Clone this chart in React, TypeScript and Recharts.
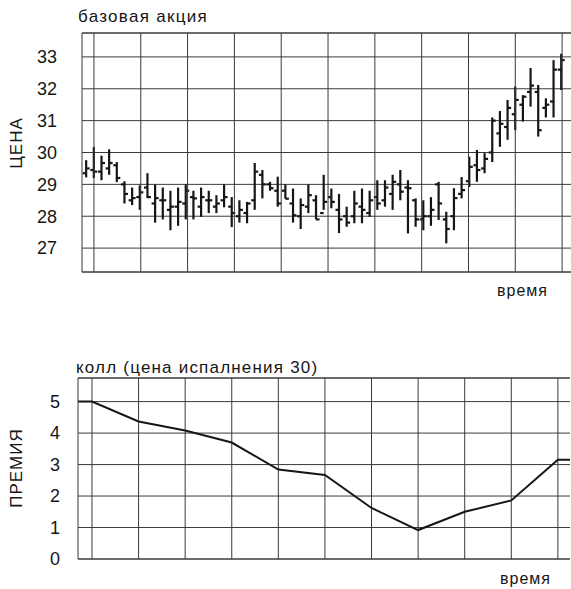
import React from "react";
import {
  ComposedChart,
  Bar,
  Line,
  XAxis,
  YAxis,
  CartesianGrid,
  ReferenceLine,
} from "recharts";

// === Underlying stock: daily bars ===
const highs = [
  29.76, 30.17, 29.9, 30.1, 29.7, 29.1, 28.9, 28.97, 29.35, 29.0, 28.9, 28.8,
  28.9, 29.0, 28.8, 28.9, 28.8, 28.66, 29.0, 28.6, 28.5, 28.45, 29.67, 29.45,
  29.08, 29.24, 29.0, 28.87, 28.56, 29.0, 28.66, 29.3, 28.87, 28.7, 28.3, 28.8,
  28.87, 28.8, 29.13, 29.13, 29.3, 29.45, 29.13, 28.56, 28.5, 28.6, 29.08,
  28.14, 28.88, 29.23, 29.87, 30.08, 29.98, 31.1, 31.3, 31.65, 32.07, 31.8,
  32.65, 32.12, 31.7, 32.9, 33.1,
];
const lows = [
  29.22, 29.2, 29.13, 29.3, 29.07, 28.4, 28.35, 28.2, 28.57, 27.8, 27.9, 27.56,
  27.7, 27.9, 27.9, 27.98, 28.1, 28.1, 28.28, 27.66, 27.8, 27.78, 28.2, 28.56,
  28.8, 28.3, 28.55, 27.8, 27.6, 28.1, 27.9, 28.2, 28.25, 27.47, 27.67, 27.78,
  27.78, 27.98, 28.2, 28.3, 28.2, 28.5, 27.46, 27.67, 27.56, 27.7, 27.88,
  27.15, 27.56, 28.56, 28.92, 29.08, 29.35, 29.7, 30.18, 30.4, 30.7, 30.97,
  31.44, 30.5, 31.1, 31.1, 31.96,
];
const opens = [
  29.35, 29.45, 29.4, 29.5, 29.6, 29.0, 28.5, 28.6, 28.9, 28.4, 28.5, 28.2,
  28.3, 28.4, 28.6, 28.3, 28.5, 28.3, 28.5, 28.3, 28.0, 28.1, 28.5, 29.3, 29.0,
  28.8, 28.8, 28.4, 28.0, 28.3, 28.5, 28.1, 28.6, 28.2, 28.0, 28.0, 28.3, 28.1,
  28.6, 28.5, 28.7, 29.0, 28.9, 28.5, 27.9, 28.0, 29.0, 27.9, 28.0, 28.7,
  29.1, 29.6, 29.5, 30.0, 30.6, 30.8, 31.2, 31.5, 31.9, 31.9, 31.4, 31.6, 32.6,
];
const closes = [
  29.5, 29.4, 29.67, 29.67, 29.2, 28.7, 28.57, 28.75, 28.6, 28.57, 28.5, 28.3,
  28.45, 28.8, 28.56, 28.6, 28.5, 28.4, 28.6, 28.1, 28.2, 28.4, 29.4, 29.0,
  28.88, 28.4, 28.55, 28.03, 28.35, 28.66, 27.9, 28.45, 28.45, 27.9, 27.8,
  28.4, 28.2, 28.5, 28.4, 28.9, 29.08, 28.77, 28.88, 27.9, 28.0, 28.2, 28.4,
  27.6, 28.57, 28.82, 29.55, 29.45, 29.8, 31.0, 30.9, 31.4, 31.65, 31.75, 32.1,
  30.7, 31.5, 32.6, 32.9,
];
const priceTicks = [27, 28, 29, 30, 31, 32, 33];

// === Call option premium (strike 30) ===
const premiumTimes = [-0.3, 0, 1, 2, 3, 4, 5, 6, 7, 8, 9, 10, 10.26];
const premiumValues = [5, 5, 4.37, 4.08, 3.7, 2.84, 2.67, 1.62, 0.92, 1.5, 1.86, 3.15, 3.15];
const premiumTicks = [0, 1, 2, 3, 4, 5];
const timeTicks = [0, 1, 2, 3, 4, 5, 6, 7, 8, 9, 10];

const FONT = "'Liberation Sans', Arial, sans-serif";
const INK = "#161616";
const GRID = "#3a3a3a";

const barData = highs.map((h, i) => ({
  i,
  range: [lows[i], h],
  high: h,
  low: lows[i],
  open: opens[i],
  close: closes[i],
}));

// vertical grid lines sit every ~6.1 trading days
const barGridTicks = timeTicks.map((k) => 1.04 + 6.11 * k);

const premiumData = premiumTimes.map((t, idx) => ({ t, premium: premiumValues[idx] }));

const OhlcShape = (props: any) => {
  const { x, y, width, height, payload } = props;
  if (x == null || y == null) return null;
  const top = Math.min(y, y + height);
  const bottom = Math.max(y, y + height);
  const cx = x + width / 2;
  const span = payload.high - payload.low || 1;
  const yOf = (v: number) => top + ((payload.high - v) / span) * (bottom - top);
  return (
    <g stroke={INK} strokeWidth={2.2}>
      <line x1={cx} x2={cx} y1={top} y2={bottom} />
      <line x1={cx - 3.5} x2={cx} y1={yOf(payload.open)} y2={yOf(payload.open)} />
      <line x1={cx} x2={cx + 3.5} y1={yOf(payload.close)} y2={yOf(payload.close)} />
    </g>
  );
};

const text = (style: React.CSSProperties, children: string) => (
  <div
    style={{
      position: "absolute",
      whiteSpace: "nowrap",
      fontFamily: FONT,
      color: INK,
      lineHeight: 1,
      ...style,
    }}
  >
    {children}
  </div>
);

const rotated = (cx: number, cy: number, label: string) => (
  <div
    style={{
      position: "absolute",
      left: cx,
      top: cy,
      transform: "translate(-50%, -50%) rotate(-90deg)",
      whiteSpace: "nowrap",
      fontFamily: FONT,
      fontSize: 17,
      letterSpacing: 1,
      color: INK,
      lineHeight: 1,
    }}
  >
    {label}
  </div>
);

export default function App() {
  const tickStyle = { fontSize: 18, fill: INK, fontFamily: FONT };
  return (
    <div
      style={{
        position: "absolute",
        left: 0,
        top: 0,
        width: 571,
        height: 589,
        background: "#fff",
        overflow: "hidden",
      }}
    >
      {text({ left: 78, top: 8, fontSize: 17, letterSpacing: 1.3 }, "базовая акция")}
      {rotated(16, 143, "ЦЕНА")}
      {text({ left: 497, top: 283, fontSize: 16, letterSpacing: 1 }, "время")}

      {/* === Stock bars === */}
      <div style={{ position: "absolute", left: 0, top: 0 }}>
        <ComposedChart
          width={571}
          height={273}
          data={barData}
          margin={{ top: 33, right: 0, bottom: 0, left: 0 }}
        >
          <CartesianGrid stroke={GRID} strokeWidth={1} vertical={false} />
          <XAxis
            dataKey="i"
            type="number"
            domain={[-0.52, 63.3]}
            ticks={barGridTicks}
            tick={false}
            tickLine={false}
            height={1}
            axisLine={{ stroke: GRID }}
            allowDataOverflow
          />
          <YAxis
            type="number"
            domain={[26.25, 33.75]}
            ticks={priceTicks}
            interval={0}
            width={82}
            tickLine={false}
            tickSize={0}
            tickMargin={25}
            tick={tickStyle}
            axisLine={{ stroke: GRID }}
            allowDataOverflow
          />
          <ReferenceLine y={33.75} stroke={GRID} />
          {barGridTicks.map((g) => (
            <ReferenceLine key={g} x={g} stroke={GRID} />
          ))}
          <Bar
            dataKey="range"
            barSize={6}
            shape={OhlcShape}
            isAnimationActive={false}
          />
        </ComposedChart>
      </div>

      {text({ left: 76, top: 359, fontSize: 17, letterSpacing: 1.2 }, "колл (цена испалнения 30)")}
      {rotated(16, 468, "ПРЕМИЯ")}
      {text({ left: 500, top: 571, fontSize: 16, letterSpacing: 1 }, "время")}

      {/* === Option premium === */}
      <div style={{ position: "absolute", left: 0, top: 340 }}>
        <ComposedChart
          width={571}
          height={230}
          data={premiumData}
          margin={{ top: 38, right: 1, bottom: 10, left: 0 }}
        >
          <CartesianGrid stroke={GRID} strokeWidth={1} vertical={false} />
          <XAxis
            dataKey="t"
            type="number"
            domain={[-0.3, 10.26]}
            ticks={timeTicks}
            tick={false}
            tickLine={false}
            height={1}
            axisLine={{ stroke: GRID }}
            allowDataOverflow
          />
          <YAxis
            type="number"
            domain={[0, 5.75]}
            ticks={premiumTicks}
            interval={0}
            width={78}
            tickLine={false}
            tickSize={0}
            tickMargin={18}
            tick={tickStyle}
            axisLine={{ stroke: GRID }}
            allowDataOverflow
          />
          <ReferenceLine y={5.75} stroke={GRID} />
          {timeTicks.map((g) => (
            <ReferenceLine key={g} x={g} stroke={GRID} />
          ))}
          <Line
            type="linear"
            dataKey="premium"
            stroke={INK}
            strokeWidth={2}
            dot={false}
            isAnimationActive={false}
          />
        </ComposedChart>
      </div>
    </div>
  );
}
